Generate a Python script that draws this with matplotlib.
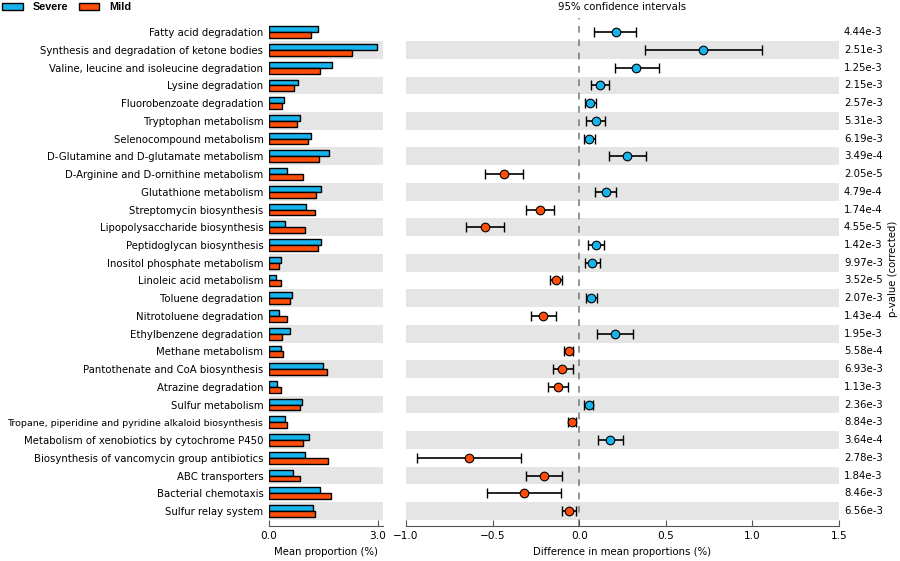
import numpy as np
import matplotlib
matplotlib.use("Agg")
import matplotlib.pyplot as plt
from matplotlib.patches import Patch

pathways = [
    "Fatty acid degradation",
    "Synthesis and degradation of ketone bodies",
    "Valine, leucine and isoleucine degradation",
    "Lysine degradation",
    "Fluorobenzoate degradation",
    "Tryptophan metabolism",
    "Selenocompound metabolism",
    "D-Glutamine and D-glutamate metabolism",
    "D-Arginine and D-ornithine metabolism",
    "Glutathione metabolism",
    "Streptomycin biosynthesis",
    "Lipopolysaccharide biosynthesis",
    "Peptidoglycan biosynthesis",
    "Inositol phosphate metabolism",
    "Linoleic acid metabolism",
    "Toluene degradation",
    "Nitrotoluene degradation",
    "Ethylbenzene degradation",
    "Methane metabolism",
    "Pantothenate and CoA biosynthesis",
    "Atrazine degradation",
    "Sulfur metabolism",
    "Tropane, piperidine and pyridine alkaloid biosynthesis",
    "Metabolism of xenobiotics by cytochrome P450",
    "Biosynthesis of vancomycin group antibiotics",
    "ABC transporters",
    "Bacterial chemotaxis",
    "Sulfur relay system",
]

severe = [1.36, 2.99, 1.73, 0.80, 0.41, 0.86, 1.15, 1.66, 0.51, 1.44, 1.03, 0.45, 1.45, 0.33,
          0.18, 0.63, 0.29, 0.57, 0.32, 1.49, 0.22, 0.91, 0.44, 1.10, 1.00, 0.66, 1.40, 1.21]
mild = [1.15, 2.29, 1.40, 0.69, 0.36, 0.78, 1.09, 1.39, 0.95, 1.29, 1.26, 1.00, 1.36, 0.27,
        0.33, 0.57, 0.51, 0.36, 0.39, 1.59, 0.34, 0.86, 0.49, 0.95, 1.64, 0.87, 1.72, 1.27]

diff = [0.21, 0.714, 0.33, 0.118, 0.062, 0.096, 0.056, 0.275, -0.435, 0.152, -0.227, -0.543,
        0.096, 0.073, -0.136, 0.068, -0.21, 0.205, -0.061, -0.098, -0.121, 0.054, -0.042,
        0.177, -0.635, -0.206, -0.32, -0.061]
ci_low = [0.087, 0.381, 0.206, 0.066, 0.031, 0.04, 0.025, 0.17, -0.543, 0.091, -0.308, -0.654,
          0.048, 0.031, -0.169, 0.037, -0.28, 0.104, -0.087, -0.154, -0.181, 0.027, -0.066,
          0.106, -0.939, -0.31, -0.535, -0.102]
ci_high = [0.33, 1.053, 0.458, 0.173, 0.096, 0.15, 0.089, 0.383, -0.323, 0.212, -0.146, -0.433,
           0.144, 0.12, -0.1, 0.1, -0.135, 0.31, -0.038, -0.036, -0.064, 0.081, -0.019,
           0.25, -0.335, -0.1, -0.106, -0.021]

pvalues = ["4.44e-3", "2.51e-3", "1.25e-3", "2.15e-3", "2.57e-3", "5.31e-3", "6.19e-3",
           "3.49e-4", "2.05e-5", "4.79e-4", "1.74e-4", "4.55e-5", "1.42e-3", "9.97e-3",
           "3.52e-5", "2.07e-3", "1.43e-4", "1.95e-3", "5.58e-4", "6.93e-3", "1.13e-3",
           "2.36e-3", "8.84e-3", "3.64e-4", "2.78e-3", "1.84e-3", "8.46e-3", "6.56e-3"]

blue = "#17b3ec"
orange = "#fe4e0a"
band = "#e5e5e5"
fs = 7.3

n = len(pathways)
y = np.arange(n)[::-1]
ylim = (-0.83, 27.8)

fig = plt.figure(figsize=(9, 5.61), dpi=100)
ax1 = fig.add_axes([269 / 900, 1 - 525.7 / 561, 114 / 900, (525.7 - 18) / 561])
ax2 = fig.add_axes([406 / 900, 1 - 525.7 / 561, 433 / 900, (525.7 - 18) / 561])

# alternating background bands
for i, yy in enumerate(y):
    if i % 2 == 1:
        ax1.axhspan(yy - 0.5, yy + 0.5, color=band, zorder=0, lw=0)
        ax2.axhspan(yy - 0.5, yy + 0.5, color=band, zorder=0, lw=0)

# left: mean proportions
h = 0.33
ax1.barh(y + h / 2, severe, height=h, color=blue, edgecolor="black", lw=1, zorder=2)
ax1.barh(y - h / 2, mild, height=h, color=orange, edgecolor="black", lw=1, zorder=2)
ax1.set_xlim(0, 3.15)
ax1.set_ylim(*ylim)
ax1.set_xticks([0, 3.0])
ax1.set_xticklabels(["0.0", "3.0"])
ax1.set_yticks(y)
ax1.set_yticklabels(pathways, fontsize=fs)
ax1.tick_params(axis="y", length=0, pad=4)
# the long label is squeezed in the original
for lab in ax1.get_yticklabels():
    if len(lab.get_text()) > 50:
        lab.set_fontsize(6.8)
ax1.set_xlabel("Mean proportion (%)", fontsize=fs, labelpad=4)

# right: difference with CI
colors = [blue if d > 0 else orange for d in diff]
for yy, d, lo, hi, c in zip(y, diff, ci_low, ci_high, colors):
    ax2.errorbar(d, yy, xerr=[[d - lo], [hi - d]], fmt="none", ecolor="black",
                 elinewidth=1.2, capsize=3.5, capthick=1, zorder=3)
    ax2.plot(d, yy, "o", color=c, mec="black", mew=0.8, ms=6.2, zorder=4)
ax2.axvline(0, color="#808080", ls=(0, (4, 4)), lw=1.2, zorder=1)
ax2.set_xlim(-1.0, 1.5)
ax2.set_ylim(*ylim)
ax2.set_xticks([-1.0, -0.5, 0.0, 0.5, 1.0, 1.5])
ax2.set_yticks([])
ax2.set_xlabel("Difference in mean proportions (%)", fontsize=fs, labelpad=4)
ax2.text(0.5, 1.0 + 6 / 508, "95% confidence intervals", transform=ax2.transAxes,
         ha="center", va="bottom", fontsize=fs)

for yy, p in zip(y, pvalues):
    ax2.text(1.0 + 5 / 433, yy, p, transform=ax2.get_yaxis_transform(),
             ha="left", va="center", fontsize=fs)
fig.text(893 / 900, 0.52, "p-value (corrected)", rotation=90, ha="center", va="center", fontsize=fs)

for ax in (ax1, ax2):
    for s in ("top", "right", "left"):
        ax.spines[s].set_visible(False)
    ax.spines["bottom"].set_color("#555555")
    ax.tick_params(axis="x", direction="in", length=4, color="#555555", labelsize=7.6, pad=4)

handles = [Patch(facecolor=blue, edgecolor="black", label="Severe"),
           Patch(facecolor=orange, edgecolor="black", label="Mild")]
fig.legend(handles=handles, loc="upper left", bbox_to_anchor=(0.0, 1.0), ncol=2, frameon=False,
           prop={"family": "Liberation Sans", "weight": "bold", "size": 7.8},
           handlelength=1.9, handleheight=0.6, columnspacing=1.0, handletextpad=0.9,
           borderpad=0.1, borderaxespad=0.1)

fig.savefig("out.png", dpi=100)
